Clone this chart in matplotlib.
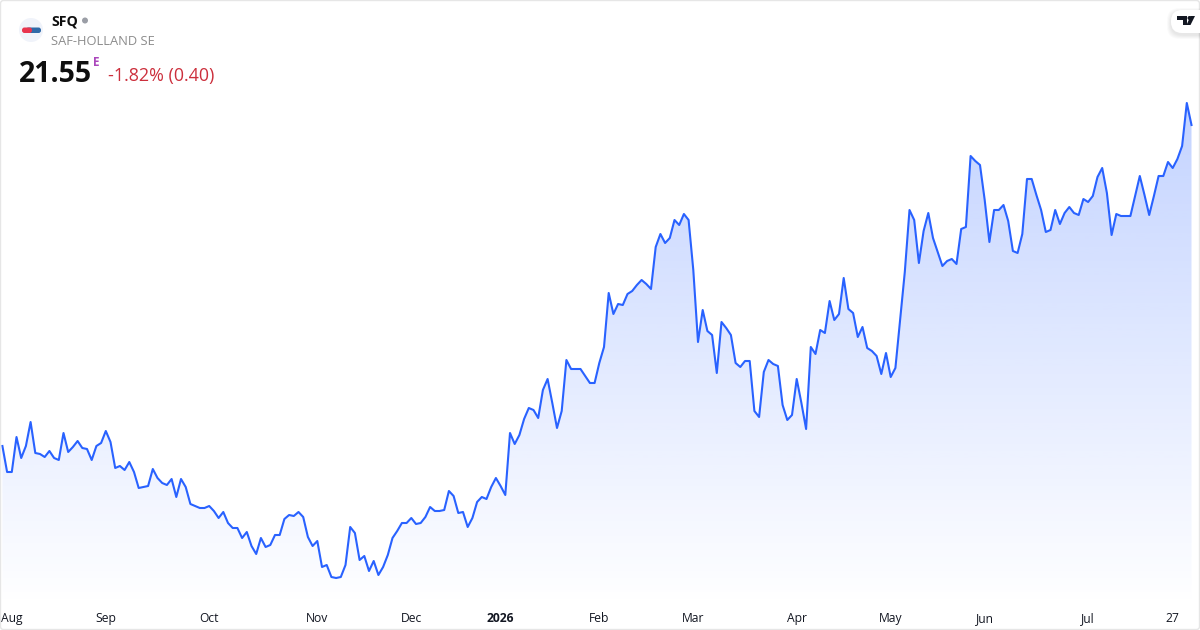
import numpy as np
import matplotlib
matplotlib.use('Agg')
import matplotlib.pyplot as plt
from matplotlib.patches import Circle, FancyBboxPatch, Polygon

# closing prices
prices = [
    15.13, 14.61, 14.61, 15.31, 14.89, 15.13, 15.61, 14.99, 14.97, 14.91,
    15.03, 14.89, 14.85, 15.39, 15.01, 15.11, 15.23, 15.09, 15.07, 14.85,
    15.13, 15.19, 15.43, 15.21, 14.69, 14.73, 14.65, 14.81, 14.61, 14.29,
    14.31, 14.33, 14.67, 14.49, 14.39, 14.35, 14.47, 14.11, 14.47, 14.31,
    13.97, 13.93, 13.89, 13.89, 13.93, 13.83, 13.69, 13.81, 13.59, 13.49,
    13.49, 13.29, 13.41, 13.13, 12.97, 13.29, 13.11, 13.15, 13.35, 13.35,
    13.67, 13.75, 13.73, 13.81,
    13.71, 13.31, 13.13, 13.23, 12.71, 12.75, 12.51, 12.49, 12.51, 12.75,
    13.51, 13.39, 12.85, 12.93, 12.63, 12.83, 12.55, 12.71, 12.95, 13.29,
    13.43, 13.59, 13.59, 13.69, 13.57, 13.59, 13.71, 13.91, 13.83, 13.83,
    13.85, 14.23, 14.13, 13.79, 13.81, 13.51, 13.69, 14.01, 14.11, 14.07,
    14.31, 14.49, 14.33, 14.15, 15.39, 15.17, 15.35, 15.67, 15.89, 15.85, 15.69,
    16.25, 16.47, 15.99, 15.49, 15.83, 16.85, 16.67, 16.67, 16.67, 16.53,
    16.39, 16.39, 16.79, 17.11, 18.19, 17.77, 17.97, 17.95, 18.17, 18.23,
    18.35, 18.45, 18.37, 18.27, 19.11, 19.37, 19.19, 19.29, 19.65, 19.55,
    19.77, 19.65, 18.65, 17.21, 17.85, 17.43, 17.35, 16.59, 17.61, 17.49,
    17.35, 16.79, 16.71, 16.83, 16.83, 15.83, 15.71, 16.61, 16.85, 16.77,
    16.73, 15.95, 15.65, 15.75, 16.47, 15.99, 15.47, 17.11, 16.97, 17.45,
    17.39, 18.03, 17.65, 17.77,
    18.49, 17.87, 17.79, 17.31, 17.51, 17.09, 17.03, 16.93, 16.57, 16.99,
    16.51, 16.69, 17.65, 18.61, 19.85, 19.65, 18.79, 19.43, 19.79, 19.29,
    19.01, 18.73, 18.83, 18.87, 18.77, 19.47, 19.51, 20.93, 20.83, 20.75,
    20.05, 19.21, 19.85, 19.85,
    19.95, 19.63, 19.03, 18.99, 19.37, 20.47, 20.47, 20.15, 19.85, 19.41,
    19.45, 19.85, 19.57, 19.79, 19.91, 19.79, 19.75, 20.07, 20.01, 20.13,
    20.51, 20.69, 20.19, 19.35, 19.77, 19.73, 19.73, 19.73, 20.13, 20.53,
    20.15, 19.75, 20.13, 20.53, 20.53, 20.81, 20.69, 20.87, 21.13, 21.99, 21.55,
]
tick_pos = [2, 22, 44, 67, 87, 106, 127, 147, 169, 189, 209, 231, 249]
tick_labels = ['Aug', 'Sep', 'Oct', 'Nov', 'Dec', '2026', 'Feb', 'Mar', 'Apr', 'May', 'Jun', 'Jul', '27']

plt.rcParams['font.family'] = ['Open Sans', 'DejaVu Sans']

LINE = '#2962ff'
W, H = 1200, 630

fig = plt.figure(figsize=(12, 6.3), dpi=100)
ax = fig.add_axes([0, 0, 1, 1])
x = np.arange(len(prices))
# one index step is 4.7 px, index 0 sits at 2.4 px
ax.set_xlim(-2.4 / 4.7, (W - 2.4) / 4.7)
ax.set_ylim(11.45, 24.05)
for s in ax.spines.values():
    s.set_visible(False)
ax.set_yticks([])
ax.set_xticks(tick_pos)
ax.set_xticklabels(tick_labels, fontsize=8.7, color='#131722', va='baseline')
ax.tick_params(axis='x', length=0, pad=-5.8)
ax.get_xticklabels()[5].set_fontweight('bold')

# area fill: vertical gradient clipped to the area under the line
grad = np.zeros((256, 1, 4))
grad[..., 0] = 41 / 255
grad[..., 1] = 98 / 255
grad[..., 2] = 1
grad[..., 3] = np.linspace(0.28, 0.0, 256)[:, None]
area = ax.fill_between(x, prices, 11.45, color='none')
img = ax.imshow(grad, aspect='auto', zorder=1, interpolation='bilinear',
                extent=[x[0], x[-1], 11.9, max(prices)], origin='upper')
img.set_clip_path(area.get_paths()[0], transform=ax.transData)
ax.set_xlim(-2.4 / 4.7, (W - 2.4) / 4.7)
ax.set_ylim(11.45, 24.05)
ax.plot(x, prices, color=LINE, lw=1.5, zorder=2, solid_joinstyle='round')

# overlay in pixel coordinates for the header, logo and frame
ov = fig.add_axes([0, 0, 1, 1], zorder=5)
ov.set_xlim(0, W)
ov.set_ylim(H, 0)
ov.axis('off')
ov.patch.set_alpha(0)

ov.add_patch(FancyBboxPatch((0.5, 0.5), W - 1, H - 1, boxstyle='round,pad=0,rounding_size=3',
                            fc='none', ec='#e6e6e6', lw=1))

# company logo
ov.add_patch(Circle((31, 30), 12, fc='#f0f3fa', ec='none'))
ov.add_patch(FancyBboxPatch((26, 27.5), 15, 5.5, boxstyle='round,pad=0,rounding_size=2.5', fc='#2f6aa8', ec='none'))
ov.add_patch(FancyBboxPatch((22, 27.5), 10, 5.5, boxstyle='round,pad=0,rounding_size=2.5', fc='#e8344e', ec='none'))

ov.text(51, 26, 'SFQ', fontsize=10.2, fontweight='bold', color='#0f0f0f', va='baseline')
ov.add_patch(Circle((85, 20.5), 3, fc='#9b9ea6', ec='none'))
ov.text(51, 45, 'SAF-HOLLAND SE', fontsize=9.3, color='#8c8c8c', va='baseline')
ov.text(18.5, 81.5, '21.55', fontsize=20.5, fontweight='bold', color='#0f0f0f', va='baseline')
ov.text(93, 66, 'E', fontsize=8.5, fontweight='bold', color='#ab47bc', va='baseline')
ov.text(108, 81, '-1.82% (0.40)', fontsize=12.9, color='#cc2f3c', va='baseline')

# TradingView badge
for off in np.arange(8, 0, -1):
    ov.add_patch(FancyBboxPatch((1171 - off / 2, 10 + 2 - off / 2), 40 + off, 23 + off,
                                boxstyle='round,pad=0,rounding_size=12', fc='black', alpha=0.012, ec='none'))
ov.add_patch(FancyBboxPatch((1171, 10), 40, 23, boxstyle='round,pad=0,rounding_size=11', fc='white', ec='none'))
ov.add_patch(Polygon([(1177, 16), (1187, 16), (1187, 25), (1183, 25), (1183, 20), (1177, 20)], fc='#131722', ec='none'))
ov.add_patch(Circle((1189.5, 18), 2, fc='#131722', ec='none'))
ov.add_patch(Polygon([(1190.5, 16), (1195, 16), (1190.5, 25), (1186.5, 25)], fc='#131722', ec='none'))
ov.set_xlim(0, W)
ov.set_ylim(H, 0)

fig.savefig('out.png', dpi=100, facecolor='white')
